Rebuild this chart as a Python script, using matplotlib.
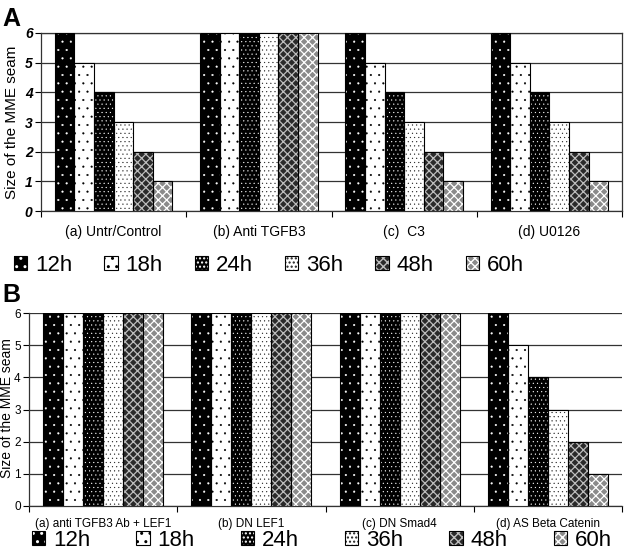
import matplotlib
matplotlib.use("Agg")
import matplotlib.pyplot as plt
import numpy as np
from matplotlib.patches import Patch

plt.rcParams['font.family'] = ['Liberation Sans', 'DejaVu Sans']

series = ["12h", "18h", "24h", "36h", "48h", "60h"]
cats_a = ["(a) Untr/Control", "(b) Anti TGFB3", "(c)  C3", "(d) U0126"]
vals_a = {
    "12h": [6, 6, 6, 6],
    "18h": [5, 6, 5, 5],
    "24h": [4, 6, 4, 4],
    "36h": [3, 6, 3, 3],
    "48h": [2, 6, 2, 2],
    "60h": [1, 6, 1, 1],
}
cats_b = ["(a) anti TGFB3 Ab + LEF1", "(b) DN LEF1", "(c) DN Smad4", "(d) AS Beta Catenin"]
vals_b = {
    "12h": [6, 6, 6, 6],
    "18h": [6, 6, 6, 5],
    "24h": [6, 6, 6, 4],
    "36h": [6, 6, 6, 3],
    "48h": [6, 6, 6, 2],
    "60h": [6, 6, 6, 1],
}
yticks = [0, 1, 2, 3, 4, 5, 6]

# style: facecolor, hatch colour, hatch, hatch linewidth
styles = {
    "12h": ("black", "white", "..", 0.3),
    "18h": ("white", "black", "..", 0.3),
    "24h": ("black", "white", "....", 0.3),
    "36h": ("white", "#222222", "....", 0.3),
    "48h": ("#2a2a2a", "#bdbdbd", "xxxx", 0.9),
    "60h": ("#8a8a8a", "white", "xxxx", 0.9),
}

fig = plt.figure(figsize=(6.24, 5.53), dpi=100)

bw = 0.135

def hatched_bar(ax, pos, h, s):
    fc, hc, ht, hlw = styles[s]
    with plt.rc_context({'hatch.linewidth': hlw}):
        ax.bar(pos, h, width=bw, facecolor=fc, edgecolor=hc, hatch=ht,
               linewidth=0, zorder=3)
    ax.bar(pos, h, width=bw, fill=False, edgecolor='black',
           linewidth=0.8, zorder=4)

def draw(ax, cats, vals):
    n = len(cats)
    x = np.arange(n)
    for i, s in enumerate(series):
        pos = x - 2.5 * bw + i * bw
        hatched_bar(ax, pos, vals[s], s)
    ax.set_xlim(-0.5, n - 0.5)
    ax.set_ylim(0, 6)
    ax.set_yticks(yticks)
    ax.set_xticks(np.arange(n + 1) - 0.5)
    ax.set_xticklabels([])
    ax.set_xticks(x, minor=True)
    ax.tick_params(axis='x', which='minor', length=0)
    ax.tick_params(axis='x', which='major', direction='out', length=4, width=0.8)
    ax.tick_params(axis='y', direction='out', length=4, width=0.8, pad=2)
    ax.yaxis.grid(True, color='#333333', linewidth=0.9, zorder=1)
    ax.set_axisbelow(True)

axA = fig.add_axes([41/624, 1-211/553, 581/624, 178/553])
draw(axA, cats_a, vals_a)
axA.set_xticklabels(cats_a, minor=True, fontsize=10)
axA.tick_params(axis='x', which='minor', pad=10)
for lab in axA.get_yticklabels():
    lab.set_fontweight('bold'); lab.set_fontstyle('italic'); lab.set_fontsize(10)
axA.set_ylabel("Size of the MME seam", fontsize=11, labelpad=4)
for sp in axA.spines.values():
    sp.set_color('#333333'); sp.set_linewidth(0.9)

axB = fig.add_axes([29/624, 1-506/553, 593/624, 193/553])
draw(axB, cats_b, vals_b)
axB.set_xticklabels(cats_b, minor=True, fontsize=8.5)
axB.tick_params(axis='x', which='minor', pad=9)
for lab in axB.get_yticklabels():
    lab.set_fontsize(8.5)
axB.set_ylabel("Size of the MME seam", fontsize=10, labelpad=1)
axB.yaxis.set_label_coords(-0.026, 0.51)
axB.spines['right'].set_visible(False)
axB.spines['top'].set_visible(False)
for sp in axB.spines.values():
    sp.set_color('#333333'); sp.set_linewidth(0.9)

def handles():
    hs = []
    for s in series:
        fc, hc, ht, hlw = styles[s]
        with plt.rc_context({'hatch.linewidth': hlw}):
            p1 = Patch(facecolor=fc, edgecolor=hc, hatch=ht, linewidth=0)
        p2 = Patch(fill=False, edgecolor='black', linewidth=0.8)
        hs.append((p1, p2))
    return hs

legA = fig.legend(handles(), series, loc='center left', ncol=6,
                  bbox_to_anchor=(14/624, 1-265/553, 510/624, 0.0), mode='expand',
                  frameon=False, fontsize=16, handlelength=0.6, handleheight=0.6,
                  handletextpad=0.35, borderaxespad=0, borderpad=0)
legB = fig.legend(handles(), series, loc='center left', ncol=6,
                  bbox_to_anchor=(32/624, 1-540/553, 580/624, 0.0), mode='expand',
                  frameon=False, fontsize=16, handlelength=0.6, handleheight=0.6,
                  handletextpad=0.35, borderaxespad=0, borderpad=0)

fig.text(2/624, 1-26/553, "A", fontsize=18, fontweight='bold', va='baseline', ha='left')
fig.text(2/624, 1-302/553, "B", fontsize=18, fontweight='bold', va='baseline', ha='left')

fig.savefig("out.png", dpi=100)
